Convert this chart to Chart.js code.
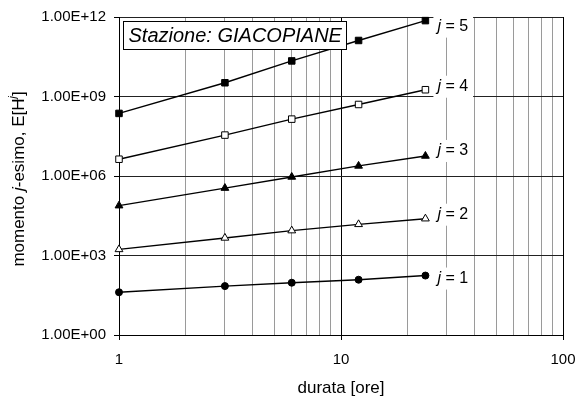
<!DOCTYPE html>
<html>
<head>
<meta charset="utf-8">
<script src="https://cdn.jsdelivr.net/npm/chart.js@4"></script>
<style>
  html, body { margin: 0; padding: 0; background: #fff; }
  canvas { display: block; }
</style>
</head>
<body>
<canvas id="c" width="577" height="399"></canvas>
<script>
// Durations (hours) and the j-th order moments of rainfall depth, E[H^j]
const durations = [1, 3, 6, 12, 24];
const moment1 = [41, 70, 94, 122, 175];
const moment2 = [1700, 4600, 8700, 15000, 24500];
const moment3 = [76000, 350000, 920000, 2400000, 5700000];
const moment4 = [4300000, 35000000, 140000000, 500000000, 1800000000];
const moment5 = [230000000, 3300000000, 22000000000, 130000000000, 730000000000];
const orders = [1, 2, 3, 4, 5];

// Axis ticks
const xTicks = [1, 2, 3, 4, 5, 6, 7, 8, 9, 10, 20, 30, 40, 50, 60, 70, 80, 90, 100];
const xLabelled = [1, 10, 100];
const yTicks = [1, 1e3, 1e6, 1e9, 1e12];

const stationName = 'Stazione: GIACOPIANE';
const FONT = '"Liberation Sans", Arial, Helvetica, sans-serif';

function sci(v) {
  const parts = v.toExponential(2).split('e');
  const n = parseInt(parts[1], 10);
  return parts[0] + 'E' + (n < 0 ? '-' : '+') + String(Math.abs(n)).padStart(2, '0');
}

const series = [moment1, moment2, moment3, moment4, moment5];
const markers = [
  { style: 'circle',   fill: '#000', r: 3.5 },
  { style: 'triangle', fill: '#fff', r: 4.5 },
  { style: 'triangle', fill: '#000', r: 4.5 },
  { style: 'rect',     fill: '#fff', r: 4.6 },
  { style: 'rect',     fill: '#000', r: 4.6 }
];

const datasets = series.map((vals, i) => ({
  label: 'j = ' + orders[i],
  data: durations.map((d, k) => ({ x: d, y: vals[k] })),
  borderColor: '#000',
  borderWidth: 1.4,
  pointStyle: markers[i].style,
  pointRadius: markers[i].r,
  pointBackgroundColor: markers[i].fill,
  pointBorderColor: '#000',
  pointBorderWidth: 1,
  tension: 0,
  fill: false,
  clip: false
}));

// Draws a run of text pieces (normal / italic / superscript) one after another
function runWidth(ctx, runs, size) {
  let w = 0;
  runs.forEach(r => {
    ctx.font = (r.italic ? 'italic ' : '') + (r.sup ? size * 0.62 : size) + 'px ' + FONT;
    w += ctx.measureText(r.t).width;
  });
  return w;
}
function drawRuns(ctx, runs, x, y, size) {
  let cx = x;
  ctx.textBaseline = 'middle';
  ctx.textAlign = 'left';
  runs.forEach(r => {
    ctx.font = (r.italic ? 'italic ' : '') + (r.sup ? size * 0.62 : size) + 'px ' + FONT;
    ctx.fillText(r.t, cx, r.sup ? y - size * 0.32 : y);
    cx += ctx.measureText(r.t).width;
  });
}

// Small per-curve vertical nudges for the "j = n" labels
const labelNudge = [3, -4, -5, -3, 6];

const annotations = {
  id: 'annotations',
  afterDatasetsDraw(chart) {
    const ctx = chart.ctx;
    const area = chart.chartArea;
    ctx.save();

    // curve labels at the end of each series
    chart.data.datasets.forEach((ds, i) => {
      const meta = chart.getDatasetMeta(i);
      const last = meta.data[meta.data.length - 1];
      const x = last.x + 12;
      const y = last.y + labelNudge[i];
      const runs = [{ t: 'j', italic: true }, { t: ' = ' + orders[i] }];
      const w = runWidth(ctx, runs, 16);
      ctx.fillStyle = '#fff';
      ctx.fillRect(x - 4, y - 11, w + 9, 22);
      ctx.fillStyle = '#000';
      drawRuns(ctx, runs, x, y, 16);
    });

    // station name box
    ctx.font = 'italic 20px ' + FONT;
    const tw = ctx.measureText(stationName).width;
    const bx = Math.round(area.left + 4) + 0.5;
    const by = Math.round(area.top + 4) + 0.5;
    const bw = Math.round(tw + 10);
    const bh = 28;
    ctx.fillStyle = '#fff';
    ctx.fillRect(bx, by, bw, bh);
    ctx.strokeStyle = '#000';
    ctx.lineWidth = 1;
    ctx.strokeRect(bx, by, bw, bh);
    ctx.fillStyle = '#000';
    ctx.textBaseline = 'middle';
    ctx.textAlign = 'left';
    ctx.fillText(stationName, bx + 5, by + bh / 2 + 1);

    // vertical axis title with italic j and superscript
    const yRuns = [
      { t: 'momento ' }, { t: 'j', italic: true }, { t: '-esimo, E[H' },
      { t: 'j', italic: true, sup: true }, { t: ']' }
    ];
    const yw = runWidth(ctx, yRuns, 17);
    ctx.translate(19, (area.top + area.bottom) / 2 + 3);
    ctx.rotate(-Math.PI / 2);
    drawRuns(ctx, yRuns, -yw / 2, 0, 17);
    ctx.restore();
  }
};

Chart.defaults.font.family = FONT;
Chart.defaults.color = '#000';

new Chart(document.getElementById('c'), {
  type: 'line',
  data: { datasets },
  options: {
    responsive: false,
    devicePixelRatio: 1,
    animation: false,
    layout: { padding: { top: 17, right: 14, bottom: 0, left: 0 } },
    plugins: { legend: { display: false }, tooltip: { enabled: false } },
    scales: {
      x: {
        type: 'logarithmic',
        min: 1,
        max: 100,
        afterBuildTicks(scale) { scale.ticks = xTicks.map(v => ({ value: v })); },
        afterFit(scale) {
          scale.height = 64;
          scale.paddingLeft = 0;
          scale.paddingRight = 0;
        },
        ticks: {
          autoSkip: false,
          maxRotation: 0,
          padding: 11,
          font: { size: 15 },
          callback: v => (xLabelled.includes(v) ? String(v) : '')
        },
        grid: {
          color: c => (c.tick && xLabelled.includes(c.tick.value) ? '#000' : '#9a9a9a'),
          tickColor: c => (c.tick && xLabelled.includes(c.tick.value) ? '#000' : 'rgba(0,0,0,0)'),
          tickLength: 5,
          lineWidth: 1
        },
        border: { color: '#000', width: 1 },
        title: {
          display: true,
          text: 'durata [ore]',
          font: { size: 17 },
          padding: { top: 0, bottom: 0 }
        }
      },
      y: {
        type: 'logarithmic',
        min: 1,
        max: 1e12,
        afterBuildTicks(scale) { scale.ticks = yTicks.map(v => ({ value: v })); },
        afterFit(scale) {
          scale.width = 119;
          scale.paddingTop = 0;
          scale.paddingBottom = 0;
        },
        ticks: {
          padding: 8,
          font: { size: 15 },
          callback: v => sci(v)
        },
        grid: {
          color: '#222',
          tickColor: '#000',
          tickLength: 5,
          lineWidth: 1
        },
        border: { color: '#000', width: 1 }
      }
    }
  },
  plugins: [annotations]
});
</script>
</body>
</html>
